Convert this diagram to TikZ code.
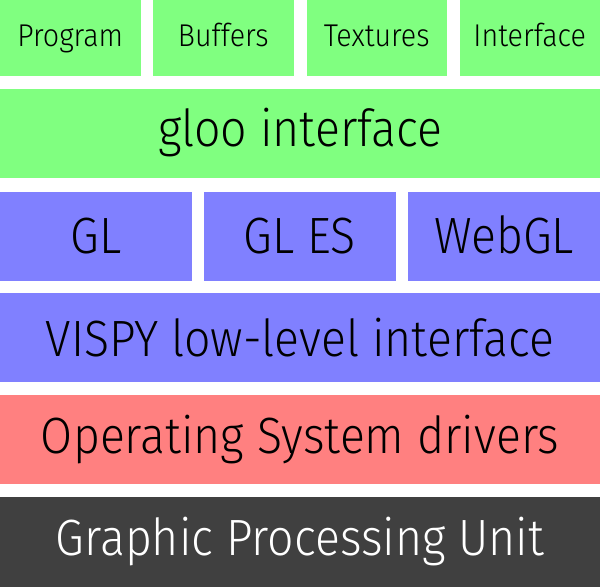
\documentclass[tikz,border=0pt]{standalone}
\usepackage{fontspec}
\setmainfont{Fira Sans Light}[FakeStretch=0.91]
\definecolor{cgreen}{HTML}{80FF80}
\definecolor{cblue}{HTML}{8080FF}
\definecolor{cred}{HTML}{FF8080}
\definecolor{cdark}{HTML}{404040}
\tikzset{
  blk/.style={anchor=north west, inner sep=0pt, outer sep=0pt, minimum height=89pt},
  small/.style={blk, fill=cgreen, minimum width=140.5pt, minimum height=76pt,
    font=\fontsize{31.5}{31.5}\selectfont, text height=21.7pt, text depth=4.2pt},
  big/.style={blk, minimum width=600pt, font=\fontsize{51}{51}\selectfont, text height=35.1pt},
  mid/.style={blk, fill=cblue, font=\fontsize{51}{51}\selectfont, text height=35.1pt, text depth=0pt}
}
\begin{document}
\begin{tikzpicture}[x=1pt,y=-1pt]
\useasboundingbox (0,0) rectangle (600,587);
\fill[white] (0,0) rectangle (600,587);
\node[small] (program) at (0,0) {Program};
\node[small] (buffers) at (153,0) {Buffers};
\node[small] (textures) at (306.5,0) {Textures};
\node[small] (interface) at (459.5,0) {Interface};
\node[big, fill=cgreen, text depth=10pt] (gloo) at (0,89.3) {gloo interface};
\node[mid, minimum width=191.6pt] (gl) at (0,191.6) {GL};
\node[mid, minimum width=191.6pt] (gles) at (204,191.6) {GL ES};
\node[mid, minimum width=191.7pt] (webgl) at (408.3,191.6) {WebGL};
\node[big, fill=cblue, text height=37.9pt, text depth=0pt] (vispy) at (0,293.3) {VISPY low-level interface};
\node[big, fill=cred, text depth=7pt] (os) at (0,395.2) {Operating System drivers};
\node[big, fill=cdark, text=white, minimum height=90pt, text depth=9pt] (gpu) at (0,497.3) {Graphic Processing Unit};
\end{tikzpicture}
\end{document}
